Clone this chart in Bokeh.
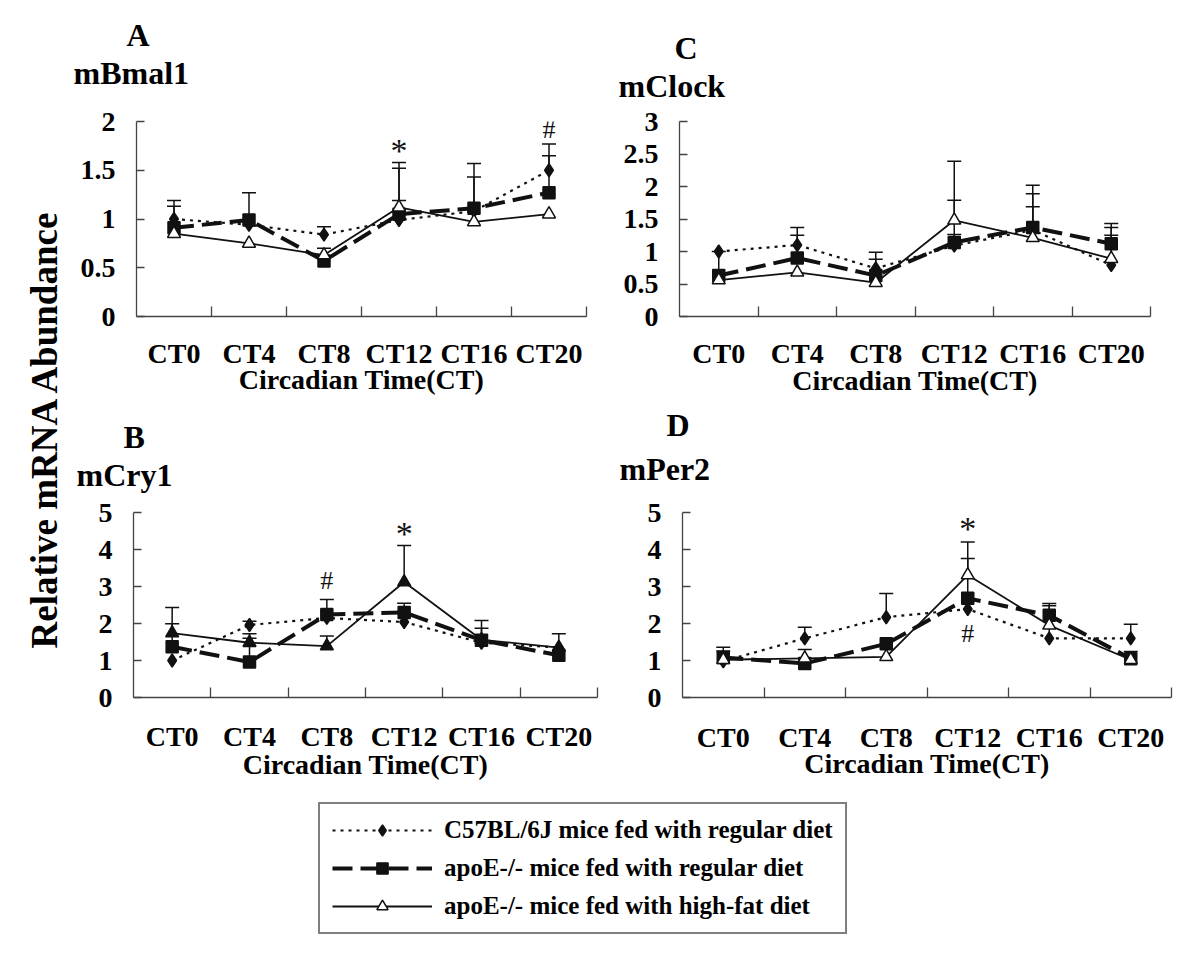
import math
from bokeh.plotting import figure
from bokeh.models import (ColumnDataSource, Range1d, FixedTicker, CustomJSTickFormatter,
                          Whisker, TeeHead, Label, Legend, LegendItem, Title)
from bokeh.layouts import row, column
from bokeh.core.properties import value
from bokeh.embed import file_html
from bokeh.resources import INLINE

# ---------------- data ----------------
ct_labels = ["CT0", "CT4", "CT8", "CT12", "CT16", "CT20"]
series_names = ["C57BL/6J mice fed with regular diet",
                "apoE-/- mice fed with regular diet",
                "apoE-/- mice fed with high-fat diet"]

# A: mBmal1
bmal_c57 = [1.00, 0.94, 0.84, 0.99, 1.08, 1.50]
bmal_c57_sd = [0.19, 0.00, 0.08, 0.20, 0.00, 0.27]
bmal_reg = [0.91, 0.99, 0.57, 1.05, 1.11, 1.27]
bmal_reg_sd = [0.22, 0.28, 0.13, 0.47, 0.46, 0.38]
bmal_hf = [0.85, 0.75, 0.63, 1.12, 0.97, 1.05]
bmal_hf_sd = [0.00, 0.00, 0.00, 0.46, 0.46, 0.00]
bmal_yticks = [0, 0.5, 1, 1.5, 2]
bmal_marks = [("*", "CT12", 1.74), ("#", "CT20", 1.92)]

# C: mClock
clock_c57 = [1.00, 1.10, 0.74, 1.09, 1.33, 0.79]
clock_c57_sd = [0.00, 0.27, 0.25, 0.17, 0.56, 0.46]
clock_reg = [0.63, 0.90, 0.63, 1.14, 1.37, 1.12]
clock_reg_sd = [0.37, 0.35, 0.25, 0.65, 0.65, 0.31]
clock_hf = [0.56, 0.68, 0.52, 1.48, 1.21, 0.89]
clock_hf_sd = [0.00, 0.00, 0.00, 0.91, 0.48, 0.48]
clock_yticks = [0, 0.5, 1, 1.5, 2, 2.5, 3]
clock_marks = []

# B: mCry1
cry_c57 = [1.00, 1.96, 2.15, 2.04, 1.48, 1.35]
cry_c57_sd = [0.00, 0.10, 0.00, 0.00, 0.00, 0.00]
cry_reg = [1.37, 0.96, 2.24, 2.30, 1.55, 1.14]
cry_reg_sd = [0.62, 0.64, 0.41, 0.25, 0.32, 0.00]
cry_hf = [1.74, 1.48, 1.39, 3.12, 1.56, 1.35]
cry_hf_sd = [0.69, 0.24, 0.27, 0.99, 0.52, 0.37]
cry_yticks = [0, 1, 2, 3, 4, 5]
cry_marks = [("#", "CT8", 3.17), ("*", "CT12", 4.54)]

# D: mPer2
per_c57 = [0.98, 1.60, 2.17, 2.39, 1.60, 1.60]
per_c57_sd = [0.00, 0.30, 0.64, 0.00, 0.88, 0.38]
per_reg = [1.08, 0.92, 1.45, 2.68, 2.22, 1.05]
per_reg_sd = [0.28, 0.00, 0.00, 1.08, 0.32, 0.00]
per_hf = [1.02, 1.06, 1.10, 3.31, 1.95, 1.02]
per_hf_sd = [0.24, 0.24, 0.00, 0.89, 0.00, 0.22]
per_yticks = [0, 1, 2, 3, 4, 5]
per_marks = [("*", "CT12", 4.67), ("#", "CT12", 1.72)]

# ---------------- styling ----------------
SERIF = "Liberation Serif"
INK = "#111111"
AXIS = "#444444"
n_cat = len(ct_labels)
xs = [i + 0.5 for i in range(n_cat)]
boundaries = [i + 1 for i in range(n_cat)]

STY = [
    dict(dash="3 5", lw=2.2, marker="diamond", size=13, fill=INK),
    dict(dash="20 8", lw=4.0, marker="square", size=12, fill=INK),
    dict(dash="solid", lw=1.8, marker="triangle", size=13, fill="white"),
]


def style_axes(p, yticks, x_standoff, xl_standoff):
    p.xaxis.ticker = FixedTicker(ticks=xs, minor_ticks=boundaries)
    p.xaxis.formatter = CustomJSTickFormatter(args=dict(labels=ct_labels),
                                              code="return labels[Math.round(tick - 0.5)];")
    p.xaxis.major_tick_line_color = None
    p.xaxis.minor_tick_in = 10
    p.xaxis.minor_tick_out = 0
    p.xaxis.minor_tick_line_color = AXIS
    p.xaxis.minor_tick_line_width = 1.3
    p.xaxis.major_label_standoff = x_standoff
    p.xaxis.axis_label = "Circadian Time(CT)"
    p.xaxis.axis_label_standoff = xl_standoff
    p.yaxis.ticker = FixedTicker(ticks=yticks)
    p.yaxis.formatter = CustomJSTickFormatter(code="return tick.toString();")
    p.yaxis.major_tick_in = 8
    p.yaxis.major_tick_out = 0
    p.yaxis.minor_tick_line_color = None
    p.yaxis.major_tick_line_color = AXIS
    p.yaxis.major_tick_line_width = 1.3
    p.yaxis.major_label_standoff = 21
    for ax in (p.xaxis, p.yaxis):
        ax.axis_line_color = AXIS
        ax.axis_line_width = 1.3
        ax.major_label_text_font = SERIF
        ax.major_label_text_font_style = "bold"
        ax.major_label_text_font_size = "28px"
        ax.major_label_text_color = "black"
        ax.axis_label_text_font = SERIF
        ax.axis_label_text_font_style = "bold"
        ax.axis_label_text_font_size = "28px"
        ax.axis_label_text_color = "black"
    p.grid.grid_line_color = None
    p.outline_line_color = None


def make_panel(letter, gene, ymax, yticks, series, marks, hf_fill, geom, heads, x_standoff, xl_standoff):
    W, H, L, R, T, B = geom
    p = figure(width=W, height=H, x_range=Range1d(0, n_cat), y_range=Range1d(0, ymax),
               output_backend="svg", toolbar_location=None,
               min_border_left=L, min_border_right=R, min_border_top=T, min_border_bottom=B)
    style_axes(p, yticks, x_standoff, xl_standoff)
    # error bars (upper only)
    for k, (vals, sds) in enumerate(series):
        ex = [x for x, s in zip(xs, sds) if s > 0]
        lo = [v for v, s in zip(vals, sds) if s > 0]
        up = [v + s for v, s in zip(vals, sds) if s > 0]
        src = ColumnDataSource(dict(x=ex, lower=lo, upper=up))
        p.add_layout(Whisker(source=src, base="x", lower="lower", upper="upper",
                             dimension="height", line_color=INK, line_width=1.5,
                             upper_head=TeeHead(size=14, line_color=INK, line_width=1.5),
                             lower_head=None))
    for k, (vals, sds) in enumerate(series):
        st = STY[k]
        p.line(xs, vals, line_color=INK, line_width=st["lw"], line_dash=st["dash"])
    for k, (vals, sds) in enumerate(series):
        st = STY[k]
        fill = hf_fill if k == 2 else st["fill"]
        p.scatter(xs, vals, marker=st["marker"], size=st["size"], fill_color=fill,
                  line_color=INK, line_width=1.5)
    for sym, cat, yv in marks:
        xi = xs[ct_labels.index(cat)]
        if sym == "*":
            p.text([xi], [yv], text=[sym], text_font=value(SERIF), text_font_size="34px",
                   text_align="center", text_baseline="middle", y_offset=4, text_color=INK)
        else:
            p.text([xi], [yv], text=[sym], text_font=value(SERIF), text_font_size="26px",
                   text_align="center", text_baseline="middle", text_color=INK)
    gap, g_off, l_off, l_stand = heads
    # spacer between plot area and gene name
    p.add_layout(Title(text=" ", text_font_size="1px", standoff=gap), "above")
    p.add_layout(Title(text=gene, align="left", offset=g_off, standoff=0,
                       text_font=SERIF, text_font_style="bold", text_font_size="32px",
                       text_color="black"), "above")
    p.add_layout(Title(text=letter, align="left", offset=l_off, standoff=l_stand,
                       text_font=SERIF, text_font_style="bold", text_font_size="32px",
                       text_color="black"), "above")
    return p


pA = make_panel("A", "mBmal1", 2, bmal_yticks,
                [(bmal_c57, bmal_c57_sd), (bmal_reg, bmal_reg_sd), (bmal_hf, bmal_hf_sd)],
                bmal_marks, "white", (537, 398, 68, 19, 121, 81), (28, -63, -10, 0), 15, -8)
pC = make_panel("C", "mClock", 3, clock_yticks,
                [(clock_c57, clock_c57_sd), (clock_reg, clock_reg_sd), (clock_hf, clock_hf_sd)],
                clock_marks, "white", (587, 398, 74, 42, 108, 81), (15, -61, -5, 0), 15, -7)
pB = make_panel("B", "mCry1", 5, cry_yticks,
                [(cry_c57, cry_c57_sd), (cry_reg, cry_reg_sd), (cry_hf, cry_hf_sd)],
                cry_marks, INK, (537, 392, 65, 8, 100, 91), (17, -57, -10, 0), 17, -6)
pD = make_panel("D", "mPer2", 5, per_yticks,
                [(per_c57, per_c57_sd), (per_reg, per_reg_sd), (per_hf, per_hf_sd)],
                per_marks, "white", (587, 392, 77, 21, 111, 93), (23, -63, -16, 12), 18, -8)

# y label strip
yl = figure(width=68, height=790, x_range=Range1d(0, 68), y_range=Range1d(0, 790),
            x_axis_location=None, y_axis_location=None, min_border=0,
            output_backend="svg", toolbar_location=None, outline_line_color=None)
yl.grid.grid_line_color = None
yl.add_layout(Label(x=44, y=362, text="Relative mRNA Abundance", angle=math.pi / 2,
                    text_align="center", text_baseline="middle", text_font=SERIF,
                    text_font_style="bold", text_font_size="37px", text_color="black"))

# legend strip (its renderers hold panel A data, kept outside the visible ranges)
lg = figure(width=1192, height=160, x_range=Range1d(100, 101), y_range=Range1d(100, 101),
            x_axis_location=None, y_axis_location=None, min_border=0,
            output_backend="svg", toolbar_location=None, outline_line_color=None)
lg.grid.grid_line_color = None
items = []
for k, (name, vals) in enumerate(zip(series_names, [bmal_c57, bmal_reg, bmal_hf])):
    st = STY[k]
    rl = lg.line(xs, vals, line_color=INK, line_width=st["lw"], line_dash=st["dash"])
    rs = lg.scatter(xs, vals, marker=st["marker"], size=st["size"] - 2, fill_color=st["fill"],
                    line_color=INK, line_width=1.5)
    items.append(LegendItem(label=name, renderers=[rl, rs]))
legend = Legend(items=items, location=(318, 16), padding=12, spacing=10,
                label_height=28, glyph_height=28, glyph_width=100, label_standoff=12,
                label_width=384, border_line_color="black", border_line_width=2.5,
                background_fill_color="white", label_text_font=SERIF,
                label_text_font_style="bold", label_text_font_size="25px",
                label_text_color="black")
lg.add_layout(legend)

top = row(pA, pC)
bottom = row(pB, pD)
layout = column(row(yl, column(top, bottom)), lg)
open("out.html", "w").write(file_html(layout, INLINE))
